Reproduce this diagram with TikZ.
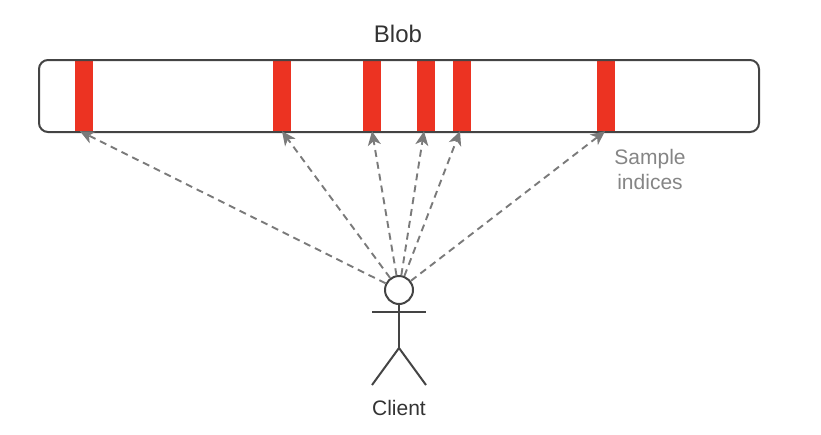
\documentclass[tikz,border=0pt]{standalone}
\usepackage{fontspec}
\setmainfont{Liberation Sans}
\usetikzlibrary{arrows.meta}
\definecolor{barred}{HTML}{EC3322}
\definecolor{linedark}{HTML}{444444}
\definecolor{linegray}{HTML}{7A7A7A}
\definecolor{labelgray}{HTML}{858585}
\tikzset{
  sample/.style={fill=barred,inner sep=0pt,minimum width=18pt,minimum height=72pt},
  label/.style={inner sep=0pt,font=\fontsize{21}{25}\selectfont,text=black!80},
  fetch/.style={draw=linegray,line width=1.9pt,dash pattern=on 7pt off 5pt,
    -{Stealth[length=14pt,width=13pt,inset=4pt]}},
  limb/.style={draw=linedark,line width=2pt}
}
\begin{document}
\begin{tikzpicture}[x=1pt,y=-1pt]
  \useasboundingbox (0,0) rectangle (821,434);
  \draw
    (84,96) node[sample] (0){}
    (282,96) node[sample] (1){}
    (372,96) node[sample] (2){}
    (426,96) node[sample] (3){}
    (462,96) node[sample] (4){}
    (606,96) node[sample] (5){};
  \node[draw=linedark,line width=2pt,rounded corners=9pt,inner sep=0pt,
    minimum width=720pt,minimum height=72pt] (blob) at (399,96) {};
  \node[label,font=\fontsize{24}{28}\selectfont] (title) at (398,34) {Blob};
  \node[label,text=labelgray,align=center,font=\fontsize{21}{25}\selectfont] (indices) at (650,169) {Sample\\indices};
  % client figure
  \node[draw=linedark,line width=2pt,circle,inner sep=0pt,minimum size=28pt] (head) at (399,290) {};
  \coordinate (hip) at (399,348);
  \coordinate (armL) at (372,312);
  \coordinate (armR) at (426,312);
  \coordinate (footL) at (372,385);
  \coordinate (footR) at (426,385);
  \draw[limb] (head) -- (hip);
  \draw[limb] (armL) -- (armR);
  \draw[limb] (footL) -- (hip) -- (footR);
  \node[label] (client) at (399,408) {Client};
  \begin{scope}
    \draw[fetch] (head) to ([xshift=-4pt,yshift=1pt]0.south);
    \draw[fetch] (head) to ([yshift=1pt]1.south);
    \draw[fetch] (head) to ([yshift=1pt]2.south);
    \draw[fetch] (head) to ([xshift=-2pt,yshift=1pt]3.south);
    \draw[fetch] (head) to ([xshift=-2pt,yshift=1pt]4.south);
    \draw[fetch] (head) to ([xshift=-1pt,yshift=1pt]5.south);
  \end{scope}
\end{tikzpicture}
\end{document}
